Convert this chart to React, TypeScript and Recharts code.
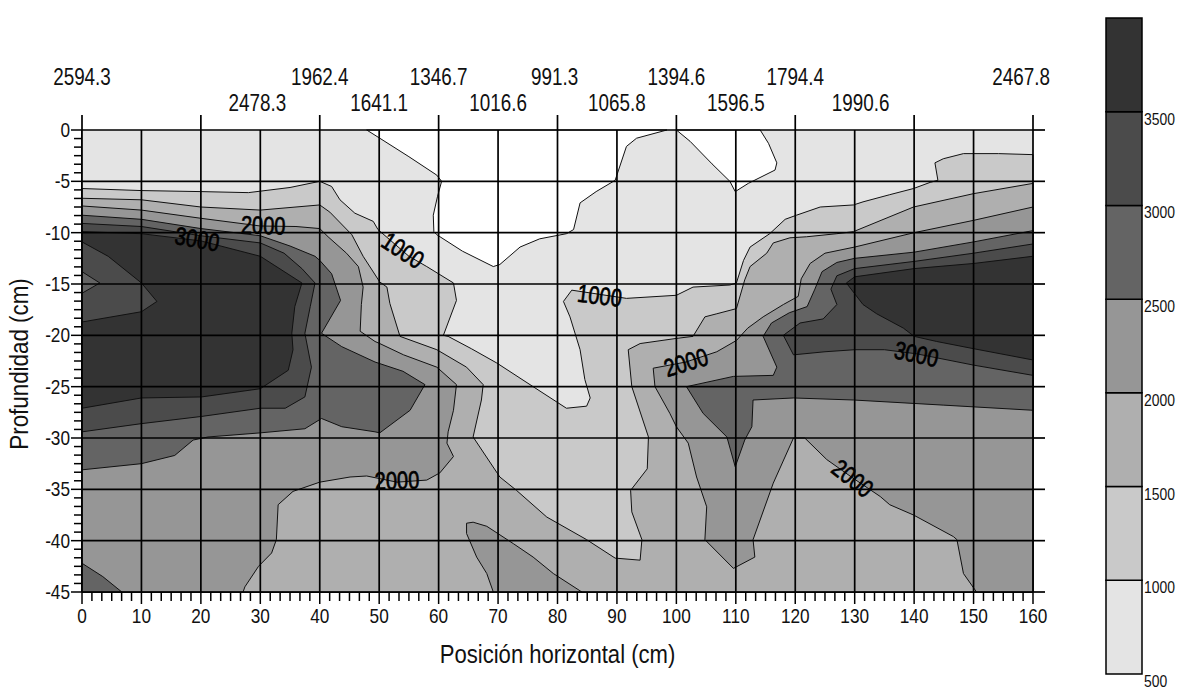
import React from 'react';
import { ScatterChart, Scatter, XAxis, YAxis, ComposedChart, ReferenceArea } from 'recharts';

const FONT = "'Liberation Sans', Arial, sans-serif";
const NARROW = 0.82;

// ---------- axis ticks ----------
const xMajor = [0, 10, 20, 30, 40, 50, 60, 70, 80, 90, 100, 110, 120, 130, 140, 150, 160];
const yMajor = [0, -5, -10, -15, -20, -25, -30, -35, -40, -45];
const xMinor = Array.from({ length: 97 }, (_, i) => (i * 10) / 6);
const yMinor = Array.from({ length: 55 }, (_, i) => -(i * 5) / 6);
const topTickMarks = [0, 20, 40, 60, 80, 100, 120, 140, 160];
const topLabelPos = [0, 29.5, 40, 50, 60, 70, 79.5, 90, 100, 110, 120, 131, 158];
const topLabelText = ['2594.3', '2478.3', '1962.4', '1641.1', '1346.7', '1016.6', '991.3', '1065.8', '1394.6', '1596.5', '1794.4', '1990.6', '2467.8'];
const topLabelRow = [0, 1, 0, 1, 0, 1, 0, 1, 0, 1, 0, 1, 0];
const topTicks = Array.from(new Set([...topTickMarks, ...topLabelPos])).sort((a, b) => a - b);

// ---------- colour scale ----------
const levels = [500, 1000, 1500, 2000, 2500, 3000, 3500, 4000];
const levelTicks = [500, 1000, 1500, 2000, 2500, 3000, 3500];
const levelColors = ['#e4e4e4', '#c9c9c9', '#afafaf', '#969696', '#646464', '#4b4b4b', '#333333'];

// ---------- contour regions (x cm, y cm) ----------
const plotFrame = [[0, 0], [160, 0], [160, -45], [0, -45]];
const below500A = [[47.9, 0], [50.1, -0.8], [55, -2.6], [59.7, -4.4], [60.5, -5.0], [59.8, -6.5], [59.1, -8.3], [59.2, -9.9], [59.7, -10.2], [64, -11.8], [69.2, -13.3], [70.3, -13.1], [73.7, -11.4], [77, -10.6], [81.5, -10.1], [82.7, -9.7], [83.8, -7.1], [86.5, -6.0], [89.7, -4.9], [91.6, -1.6], [93.3, -0.8], [98.4, 0]];
const below500B = [[100, 0], [102.3, -1.1], [106, -3.3], [109, -5], [109.9, -6.0], [112.1, -5.2], [116.6, -3.9], [116.9, -3.2], [115.5, -1.3], [114.1, 0]];
const above1000 = [[0, -5.7], [10, -5.9], [20, -6.0], [28, -6.1], [35, -5.6], [40, -5.0], [42, -5.5], [43.4, -6.8], [45.9, -8.1], [49, -8.9], [49.8, -9.7], [52, -10.8], [55, -12.3], [58, -13.3], [62.5, -14.9], [63, -16.6], [60.8, -20], [61.6, -20.1], [65.5, -21.3], [69.8, -22.7], [75.9, -25], [81.5, -27.1], [84.9, -26.9], [85.5, -26.1], [84.6, -24.3], [83.8, -21.4], [82.1, -18.2], [81, -16.7], [82.4, -15.6], [87, -16.0], [91.6, -16.4], [100, -16.1], [102.8, -15.3], [109, -15.1], [110.1, -14.9], [111.3, -12.7], [112.4, -11.4], [115.7, -10.1], [118.3, -8.7], [120.2, -8.3], [124.2, -7.5], [129.8, -7.3], [131.4, -7.0], [135.9, -6.3], [139.9, -5.7], [142.7, -5.1], [144, -4.9], [143.5, -3.2], [144.9, -2.8], [148.3, -2.3], [154.2, -2.3], [160, -2.4], [160, -45], [0, -45]];
const above1500 = [[0, -6.65], [10, -6.8], [20, -7.5], [30, -7.8], [40, -7.3], [41.7, -8], [45.4, -10.2], [47.3, -12.3], [50.1, -14.8], [51.3, -15.3], [51.8, -16.9], [53.5, -20.1], [59.7, -21.4], [64.7, -23.1], [67.5, -24.8], [67.2, -26.3], [65.8, -29.9], [70.3, -33.8], [73.1, -35.1], [78.2, -37.7], [84.9, -39.9], [89.7, -41.7], [93.9, -41.9], [94.2, -39.9], [92.5, -37.2], [92.3, -35.1], [95.1, -33], [95.3, -29.9], [92.5, -25], [91.9, -21.4], [93.9, -20.8], [100, -20.3], [102.8, -20.1], [104.8, -18.2], [106.8, -17.9], [110.1, -17.4], [111.5, -14.6], [112.4, -13.3], [115.2, -12], [116.3, -11], [119.1, -10.5], [121.9, -10.4], [127, -10.1], [129.8, -9.9], [139.9, -7.5], [150, -6.2], [160, -5.2], [160, -45], [0, -45]];
const above2000Left = [[0, -7.4], [10, -7.8], [20, -8.6], [30, -9.35], [36, -9.4], [40, -9.6], [41.4, -10.4], [44.5, -12], [46.5, -13.3], [47.3, -15.3], [47, -17], [46.8, -19.6], [49.3, -20.6], [50.1, -20.8], [54.1, -21.9], [59.7, -23.1], [63, -24.8], [62.5, -27.3], [61.6, -29.4], [61.4, -30.5], [62.5, -31.8], [60.2, -33.4], [58, -34.1], [53, -34.3], [47.9, -33.7], [45.1, -33.8], [40, -34.3], [35.5, -35.2], [33, -36.5], [32.7, -39.9], [31.9, -41.2], [29.7, -42.5], [27.4, -44.5], [27.1, -45], [0, -45]];
const above2000Right = [[160, -7.5], [150, -8.8], [140, -10], [130, -11.4], [125, -12], [122.5, -13], [121, -14.5], [120.5, -16.2], [118, -17], [114.6, -18.2], [112, -19.3], [110.1, -20.5], [106.8, -21.6], [101.6, -22.6], [96.1, -23.2], [96.4, -25], [98.9, -27.6], [100, -28.9], [102, -30.5], [103.4, -33.8], [105.1, -36.7], [104.8, -39.9], [109.6, -42.7], [113.2, -41.6], [112.9, -39.9], [116.3, -34.4], [119.7, -30], [121.6, -30], [125.3, -32.1], [129.7, -33.9], [134.3, -35.7], [135.9, -36.5], [139.9, -37.5], [146.6, -39.6], [147.2, -39.9], [148.3, -43.2], [150.5, -45], [160, -45]];
const above2000Bottom = [[64.7, -38.3], [65.8, -38.2], [68.1, -38.6], [72.6, -40.3], [75.9, -41.6], [79.3, -43.2], [84.1, -45], [69.2, -45], [68.1, -43.2], [66.4, -41.6], [64.7, -39.3]];
const above2500Left = [[0, -8.3], [10, -8.7], [20, -9.6], [30, -10.3], [35, -11.3], [39.2, -12.3], [40, -12.7], [42, -14], [43.5, -16.6], [40.3, -19.8], [43.7, -21.1], [49.3, -22.6], [54, -23.5], [57.7, -24.8], [55.2, -27.3], [50.1, -29.5], [49.3, -29.4], [43.7, -28.9], [40.3, -28.1], [37.5, -29.1], [30, -29.5], [21.2, -29.9], [18.7, -30.2], [15.6, -31.7], [10, -32.5], [0, -33.1]];
const above2500Right = [[160, -9.8], [150, -10.9], [140, -11.9], [130, -12.5], [127, -12.9], [124.5, -13.8], [123.3, -15.5], [122, -17.2], [119, -17.8], [116, -18.8], [114.6, -20.1], [116.9, -23.1], [116.3, -23.9], [109.6, -24], [101.7, -25], [104.5, -27.6], [108.5, -29.9], [109.9, -32.8], [111.5, -30.2], [112.7, -28.9], [112.9, -26.3], [119.7, -26.1], [129.8, -26.3], [145, -26.8], [160, -27.3]];
const above2500Corner = [[0, -42.2], [3.5, -43.5], [6.7, -45], [0, -45]];
const above3000Left = [[0, -9.1], [10, -9.4], [20, -10.3], [30, -11.0], [34, -12], [37, -13.5], [39.2, -14.9], [38.4, -17.2], [37.5, -19.8], [38.6, -23.1], [37.5, -26], [34.2, -27.1], [30, -27.1], [20.1, -27.9], [10, -28.6], [0, -29.4]];
const above3000Right = [[160, -11.1], [150, -12], [140, -12.8], [130, -13.5], [127, -14.2], [126, -15.5], [127, -17], [124.7, -18.4], [120.8, -18.8], [118, -20], [119.7, -21.9], [125, -21.6], [130, -21.4], [135, -21.4], [140.4, -21.8], [150, -22.9], [160, -23.9]];
const above3500Left = [[0, -9.9], [10, -10.1], [20, -10.8], [30, -12.3], [37, -14.9], [35.8, -17.2], [35.3, -19.8], [35.5, -21.4], [34.7, -23.4], [30, -25.2], [20.1, -26], [10, -26.1], [0, -27.1]];
const above3500Right = [[128.6, -14.9], [130, -14.3], [140, -13.5], [150, -13], [160, -12.3], [160, -22.4], [150, -21.3], [143.8, -20.6], [140, -20.1], [138.2, -19.3], [133.7, -17.9], [131.4, -17]];
const lobe3000to3500 = [[0, -10.9], [4.4, -12.3], [10, -14.9], [12.6, -16.7], [10, -17.7], [0, -18.7]];
const wedgeBelow3000 = [[0, -13.8], [3, -14.9], [0, -15.9]];

// contour labels
const labelX = [30.5, 19.4, 54, 87.1, 101.6, 140.4, 53, 129.7];
const labelY = [-9.25, -10.6, -11.7, -16.1, -22.6, -21.8, -34.1, -33.9];
const labelText = ['2000', '3000', '1000', '1000', '2000', '3000', '2000', '2000'];
const labelAngle = [2, 10, 33, 7, -17, 12, -2, 38];

const toPts = (a: number[][]) => a.map(([x, y]) => ({ x, y }));

const STROKE = '#111';
const layers = [
  { pts: plotFrame, fill: levelColors[0], stroke: 'none' },
  { pts: below500A, fill: '#ffffff', stroke: STROKE },
  { pts: below500B, fill: '#ffffff', stroke: STROKE },
  { pts: above1000, fill: levelColors[1], stroke: STROKE },
  { pts: above1500, fill: levelColors[2], stroke: STROKE },
  { pts: above2000Left, fill: levelColors[3], stroke: STROKE },
  { pts: above2000Right, fill: levelColors[3], stroke: STROKE },
  { pts: above2000Bottom, fill: levelColors[3], stroke: STROKE },
  { pts: above2500Left, fill: levelColors[4], stroke: STROKE },
  { pts: above2500Right, fill: levelColors[4], stroke: STROKE },
  { pts: above2500Corner, fill: levelColors[4], stroke: STROKE },
  { pts: above3000Left, fill: levelColors[5], stroke: STROKE },
  { pts: above3000Right, fill: levelColors[5], stroke: STROKE },
  { pts: above3500Left, fill: levelColors[6], stroke: STROKE },
  { pts: above3500Right, fill: levelColors[6], stroke: STROKE },
  { pts: lobe3000to3500, fill: levelColors[5], stroke: STROKE },
  { pts: wedgeBelow3000, fill: levelColors[4], stroke: STROKE },
];

const labelData = labelX.map((x, i) => ({ x, y: labelY[i], text: labelText[i], angle: labelAngle[i] }));
const gridData = [
  ...xMajor.flatMap((x) => [{ x, y: 0 }, { x, y: -45 }]),
  ...yMajor.flatMap((y) => [{ x: 0, y }, { x: 160, y }]),
];

const cbData = [{ x: 0 }, { x: 1 }];

const isMult = (v: number, m: number) => Math.abs(v / m - Math.round(v / m)) < 1e-6;

// narrow text: Liberation Sans compressed horizontally
const NText = ({ x, y, size, anchor = 'middle', angle = 0, sx = NARROW, children, extra = {} }: any) => (
  <text x={0} y={0} textAnchor={anchor} fontFamily={FONT} fontSize={size} fill="#111"
    transform={`translate(${x}, ${y}) rotate(${angle}) scale(${sx}, 1)`} {...extra}>
    {children}
  </text>
);

const NoShape = () => <g />;

const fillPath = (fill: string, stroke: string) => (props: any) => {
  const p: { x: number; y: number }[] = props.points || [];
  if (!p.length) return <g />;
  const d = p.map((q, i) => `${i ? 'L' : 'M'}${q.x.toFixed(2)},${q.y.toFixed(2)}`).join('') + 'Z';
  return <path d={d} fill={fill} stroke={stroke} strokeWidth={1} strokeLinejoin="round" />;
};

const segPath = (props: any) => {
  const p: { x: number; y: number }[] = props.points || [];
  let d = '';
  for (let i = 0; i + 1 < p.length; i += 2) d += `M${p[i].x},${p[i].y}L${p[i + 1].x},${p[i + 1].y}`;
  return <path d={d} stroke="#000" strokeWidth={1.7} fill="none" />;
};

const ContourLabel = (props: any) => {
  const { cx, cy, payload } = props;
  return (
    <NText x={cx} y={cy} size={25} angle={payload.angle} sx={0.8}
      extra={{ dy: '0.36em', fill: '#000', stroke: '#000', strokeWidth: 0.7 }}>{payload.text}</NText>
  );
};

const BottomTick = (props: any) => {
  const { x, y, payload } = props;
  const v = payload.value;
  const major = isMult(v, 10);
  return (
    <g>
      <line x1={x} y1={y} x2={x} y2={y + (major ? 12 : 9)} stroke="#000" strokeWidth={1.5} />
      {major && <NText x={x} y={y + 31} size={21}>{Math.round(v)}</NText>}
    </g>
  );
};

const LeftTick = (props: any) => {
  const { x, y, payload } = props;
  const v = payload.value;
  const major = isMult(v, 5);
  return (
    <g>
      <line x1={x} y1={y} x2={x - (major ? 11 : 8)} y2={y} stroke="#000" strokeWidth={1.5} />
      {major && <NText x={x - 12} y={y + 7} size={21} anchor="end">{String(Math.round(v))}</NText>}
    </g>
  );
};

const RightTick = (props: any) => {
  const { x, y } = props;
  return <line x1={x} y1={y} x2={x + 12} y2={y} stroke="#000" strokeWidth={1.7} />;
};

const TopTick = (props: any) => {
  const { x, y, payload } = props;
  const v = payload.value;
  const idx = topLabelPos.indexOf(v);
  return (
    <g>
      {topTickMarks.includes(v) && <line x1={x} y1={y} x2={x} y2={y - 15} stroke="#000" strokeWidth={1.7} />}
      {idx >= 0 && (
        <NText x={x} y={y - (topLabelRow[idx] ? 19 : 45)} size={23}>{topLabelText[idx]}</NText>
      )}
    </g>
  );
};

const CbTick = (props: any) => {
  const { x, y, payload } = props;
  return <NText x={x + 2} y={y + 13} size={17} anchor="start">{payload.value}</NText>;
};

const YTitle = (props: any) => {
  const vb = props.viewBox || { x: 10, y: 130, width: 72, height: 462 };
  const cx = vb.x + 18;
  const cy = vb.y + vb.height / 2 + 3;
  return <NText x={cx} y={cy} size={26} angle={-90} sx={0.86}>Profundidad (cm)</NText>;
};

const XTitle = (props: any) => {
  const vb = props.viewBox || { x: 82, y: 592, width: 951, height: 80 };
  return <NText x={vb.x + vb.width / 2} y={vb.y + 71} size={26} sx={0.85}>Posición horizontal (cm)</NText>;
};

export default function App() {
  return (
    <div style={{ position: 'absolute', left: 0, top: 0, width: 1182, height: 690, background: '#fff', overflow: 'hidden' }}>
      <div style={{ position: 'absolute', left: 0, top: 0 }}>
        <ScatterChart width={1080} height={690} margin={{ top: 10, right: 27, bottom: 18, left: 10 }}>
          <XAxis xAxisId={0} type="number" dataKey="x" domain={[0, 160]} ticks={xMinor} interval={0}
            tick={BottomTick} tickLine={false} tickSize={0} tickMargin={0}
            axisLine={{ stroke: '#000', strokeWidth: 2 }} height={80} label={{ content: XTitle }} />
          <XAxis xAxisId="top" orientation="top" type="number" dataKey="x" domain={[0, 160]} ticks={topTicks} interval={0}
            tick={TopTick} tickLine={false} tickSize={0} tickMargin={0} axisLine={false} height={120} allowDataOverflow />
          <YAxis yAxisId={0} type="number" dataKey="y" domain={[-45, 0]} ticks={yMinor} interval={0}
            tick={LeftTick} tickLine={false} tickSize={0} tickMargin={0}
            axisLine={{ stroke: '#000', strokeWidth: 2 }} width={72} label={{ content: YTitle }} />
          <YAxis yAxisId="r" orientation="right" type="number" dataKey="y" domain={[-45, 0]} ticks={yMajor} interval={0}
            tick={RightTick} tickLine={false} tickSize={0} tickMargin={0} axisLine={false} width={20} allowDataOverflow />
          {layers.map((l, i) => (
            <Scatter key={`layer-${i}`} data={toPts(l.pts)} shape={NoShape} line={fillPath(l.fill, l.stroke)}
              isAnimationActive={false} legendType="none" />
          ))}
          <Scatter key="labels" data={labelData} shape={ContourLabel} isAnimationActive={false} legendType="none" />
          <Scatter key="grid" data={gridData} shape={NoShape} line={segPath} isAnimationActive={false} legendType="none" />
        </ScatterChart>
      </div>
      <div style={{ position: 'absolute', left: 1080, top: 0 }}>
        <ComposedChart width={102} height={690} data={cbData} margin={{ top: 18, right: 0, bottom: 16, left: 26 }}>
          <XAxis type="number" dataKey="x" domain={[0, 1]} hide />
          <YAxis orientation="right" type="number" domain={[500, 4000]} ticks={levelTicks} interval={0}
            tick={CbTick} tickLine={false} tickSize={0} tickMargin={0} axisLine={false} width={40} allowDataOverflow />
          {levelColors.map((c, i) => (
            <ReferenceArea key={`band-${i}`} x1={0} x2={1} y1={levels[i]} y2={levels[i + 1]} fill={c} fillOpacity={1}
              stroke="#000" strokeWidth={1.5} />
          ))}
        </ComposedChart>
      </div>
    </div>
  );
}
